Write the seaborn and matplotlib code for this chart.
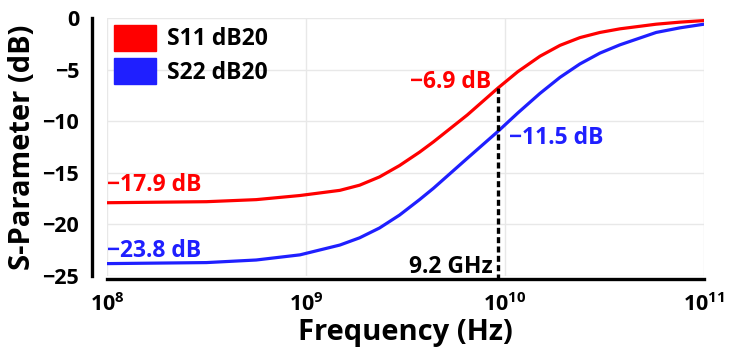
import pandas as pd
import matplotlib
matplotlib.use("Agg")
import matplotlib.pyplot as plt
from matplotlib.patches import Patch
from matplotlib.ticker import LogLocator, NullLocator, FixedLocator
import seaborn as sns

# values
freq_hz = [1e8, 3.16e8, 5.62e8, 9.33e8, 1.48e9, 1.86e9, 2.34e9, 2.95e9,
           3.72e9, 4.37e9, 6.46e9, 9.2e9, 1.16e10, 1.5e10, 1.89e10,
           2.38e10, 3.0e10, 3.78e10, 5.75e10, 7.59e10, 1e11]
s11_db = [-17.9, -17.8, -17.6, -17.2, -16.7, -16.2, -15.4, -14.3, -13.0,
          -12.0, -9.4, -6.8, -5.2, -3.7, -2.65, -1.9, -1.4, -1.05, -0.6,
          -0.4, -0.25]
s22_db = [-23.8, -23.7, -23.45, -22.95, -22.0, -21.3, -20.35, -19.1, -17.6,
          -16.5, -13.6, -11.0, -9.2, -7.3, -5.75, -4.45, -3.4, -2.6, -1.4,
          -0.95, -0.6]
series_names = ["S11 dB20", "S22 dB20"]
marker_freq = 9.2e9
marker_labels = ["\u22126.9 dB", "\u221211.5 dB", "9.2 GHz"]
start_labels = ["\u221217.9 dB", "\u221223.8 dB"]
y_ticks = [0, -5, -10, -15, -20, -25]

RED = "#ff0000"
BLUE = "#1f1fff"

sns.set_theme(style="whitegrid")
plt.rcParams["font.family"] = ["Open Sans", "DejaVu Sans"]
plt.rcParams["font.weight"] = "bold"
plt.rcParams["text.color"] = "black"
plt.rcParams["axes.labelcolor"] = "black"
plt.rcParams["xtick.color"] = "black"
plt.rcParams["ytick.color"] = "black"
plt.rcParams["mathtext.fontset"] = "custom"
plt.rcParams["mathtext.rm"] = "Open Sans:bold"
plt.rcParams["mathtext.it"] = "Open Sans:bold"
plt.rcParams["mathtext.bf"] = "Open Sans:bold"

df = pd.DataFrame({
    "Frequency": freq_hz * 2,
    "dB": s11_db + s22_db,
    "Series": [series_names[0]] * len(freq_hz) + [series_names[1]] * len(freq_hz),
})

fig = plt.figure(figsize=(7.32, 3.57), dpi=100)
ax = fig.add_axes([107 / 732, 1 - 276 / 357, 597 / 732, 258 / 357])

sns.lineplot(data=df, x="Frequency", y="dB", hue="Series",
             palette=[RED, BLUE], linewidth=2.3, legend=False, ax=ax)

ax.set_xscale("log")
ax.set_xlim(1e8, 1e11)
ax.set_ylim(-25, 0)
ax.xaxis.set_major_locator(LogLocator(base=10, numticks=10))
ax.xaxis.set_minor_locator(NullLocator())
ax.yaxis.set_major_locator(FixedLocator(y_ticks))
ax.grid(True, color="#e8e8e8", linewidth=1)

# dashed marker at 9.2 GHz
ax.plot([marker_freq, marker_freq], [-25.4, s11_db[11]], color="black",
        linestyle=(0, (1.8, 1.0)), linewidth=2.4, clip_on=False, zorder=5)

ax.text(8.55e9, -6.75, marker_labels[0], color=RED, fontsize=16.5,
        fontweight="bold", ha="right", va="baseline")
ax.text(1.05e10, -12.2, marker_labels[1], color=BLUE, fontsize=16.5,
        fontweight="bold", ha="left", va="baseline")
ax.text(8.7e9, -24.7, marker_labels[2], color="black", fontsize=16.5,
        fontweight="bold", ha="right", va="baseline")
ax.text(1e8, -16.75, start_labels[0], color=RED, fontsize=16.5,
        fontweight="bold", ha="left", va="baseline")
ax.text(1e8, -23.2, start_labels[1], color=BLUE, fontsize=16.5,
        fontweight="bold", ha="left", va="baseline")

for side in ["top", "right"]:
    ax.spines[side].set_visible(False)
for side in ["left", "bottom"]:
    ax.spines[side].set_color("black")
    ax.spines[side].set_linewidth(2.4)
ax.spines["left"].set_position(("outward", 11))
ax.spines["bottom"].set_position(("outward", 2))

ax.tick_params(axis="both", which="major", direction="out", length=6,
               width=2, color="black", labelsize=15.5, labelcolor="black")
ax.tick_params(axis="y", pad=3)
ax.tick_params(axis="x", pad=4)
for lab in ax.get_xticklabels() + ax.get_yticklabels():
    lab.set_fontweight("bold")

ax.set_xlabel("Frequency (Hz)", fontsize=21, fontweight="bold", labelpad=2)
ax.set_ylabel("S-Parameter (dB)", fontsize=21, fontweight="bold", labelpad=4)

handles = [Patch(facecolor=RED, edgecolor=RED), Patch(facecolor=BLUE, edgecolor=BLUE)]
ax.legend(handles, series_names, loc="upper left", frameon=False,
          prop={"size": 16.5, "weight": "bold"}, handlelength=1.85,
          handleheight=1.35, handletextpad=0.45, labelspacing=0.3,
          borderaxespad=0.2, borderpad=0.1)

fig.savefig("out.png", dpi=100)
